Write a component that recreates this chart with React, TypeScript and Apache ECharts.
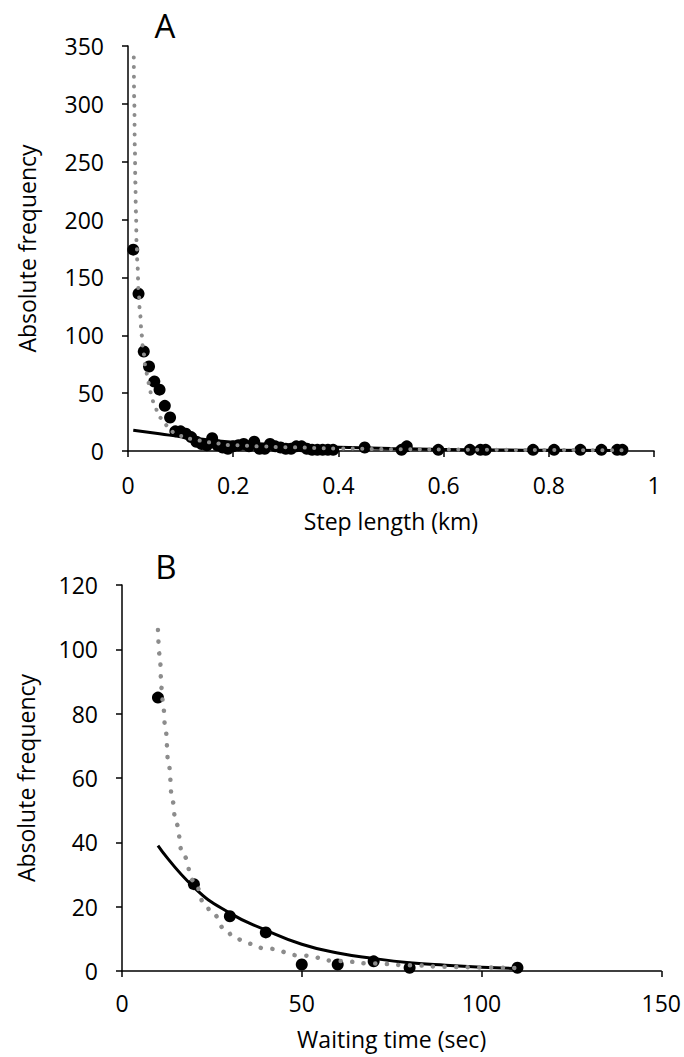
import React, { useEffect, useRef } from "react";
import * as echarts from "echarts";

const FONT = '"Open Sans", Lato, "Liberation Sans", sans-serif';

// ---------- Panel A: step length ----------
const stepLengthKm = [
  0.01, 0.02, 0.03, 0.04, 0.05, 0.06, 0.07, 0.08, 0.09, 0.1, 0.11, 0.12, 0.13,
  0.14, 0.15, 0.16, 0.17, 0.18, 0.19, 0.2, 0.21, 0.22, 0.23, 0.24, 0.25, 0.26,
  0.27, 0.28, 0.29, 0.3, 0.31, 0.32, 0.33, 0.34, 0.35, 0.36, 0.37, 0.38, 0.39,
  0.45, 0.52, 0.53, 0.59, 0.65, 0.67, 0.68, 0.77, 0.81, 0.86, 0.9, 0.93, 0.94,
];
const stepFrequency = [
  174, 136, 86, 73, 60, 53, 39, 29, 17, 17, 15, 12, 8, 6, 5, 11, 5, 3, 2, 4, 5,
  6, 4, 8, 2, 2, 6, 4, 3, 2, 2, 4, 4, 2, 1, 1, 1, 1, 1, 3, 1, 4, 1, 1, 1, 1, 1,
  1, 1, 1, 1, 1,
];
const stepExpFitX = [0.01, 0.06, 0.1, 0.15, 0.2, 0.3, 0.4, 0.5, 0.6, 0.7, 0.8, 0.94];
const stepExpFitY = [18, 15, 12.3, 9.8, 7.6, 4.9, 3.2, 2.1, 1.4, 0.9, 0.6, 0.35];
const stepPowFitX = [
  0.011, 0.012, 0.013, 0.014, 0.015, 0.0165, 0.018, 0.02, 0.023, 0.026, 0.029,
  0.033, 0.037, 0.04, 0.045, 0.05, 0.06, 0.07, 0.08, 0.09, 0.1, 0.12, 0.135,
  0.15, 0.2, 0.25, 0.3, 0.4, 0.5, 0.6, 0.7, 0.8, 0.94,
];
const stepPowFitY = [
  340, 300, 262, 232, 207, 178, 160, 140, 118, 100, 86, 74, 65, 58, 47, 39, 29,
  23, 18, 15, 13, 10.5, 9, 7.5, 5, 4, 3.2, 2.2, 1.6, 1.3, 1.0, 0.8, 0.6,
];

// ---------- Panel B: waiting time ----------
const waitTimeSec = [10, 20, 30, 40, 50, 60, 70, 80, 110];
const waitFrequency = [85, 27, 17, 12, 2, 2, 3, 1, 1];
const waitExpFitX = [10, 20, 30, 40, 50, 60, 70, 80, 90, 100, 110];
const waitExpFitY = [39, 26, 18, 12.7, 8.3, 5.6, 3.9, 2.6, 1.8, 1.2, 0.8];
const waitPowFitX = [
  10, 10.5, 11, 11.5, 12, 13, 14, 15, 17, 20, 23, 25, 29, 31, 35, 40, 50, 60,
  70, 80, 90, 100, 110,
];
const waitPowFitY = [
  106, 98, 88, 82, 76, 64, 53, 46, 36, 28, 21, 18, 12.7, 10.5, 8.5, 7, 4.8,
  3.1, 2.3, 1.8, 1.3, 1.1, 0.9,
];

const zip = (xs: number[], ys: number[]) => xs.map((x, i) => [x, ys[i]]);

const FS = 23;

const axisCommon = (margin: number) => ({
  type: "value" as const,
  splitLine: { show: false },
  axisLine: { show: true, onZero: false, lineStyle: { color: "#000", width: 1.5 } },
  axisTick: { show: true, inside: false, length: 6, lineStyle: { color: "#000", width: 1.5 } },
  axisLabel: { color: "#000", fontSize: FS, fontFamily: FONT, margin },
  nameTextStyle: { color: "#000", fontSize: FS, fontFamily: FONT },
  nameLocation: "middle" as const,
});

export default function App() {
  const ref = useRef<HTMLDivElement>(null);
  useEffect(() => {
    if (!ref.current) return;
    const chart = echarts.init(ref.current, undefined, { renderer: "svg" });
    const dotted = (w: number, gap: number) => ({
      color: "#8c8c8c",
      width: w,
      type: [0.1, gap],
      cap: "round",
    });
    const dot = { color: "#000", opacity: 1 };
    chart.setOption({
      animation: false,
      backgroundColor: "#fff",
      grid: [
        { left: 128, top: 46, width: 526, height: 405 },
        { left: 122, top: 585, width: 542, height: 386 },
      ],
      xAxis: [
        {
          ...axisCommon(22),
          gridIndex: 0,
          min: 0,
          max: 1,
          interval: 0.2,
          name: "Step length (km)",
          nameGap: 58,
        },
        {
          ...axisCommon(20),
          gridIndex: 1,
          min: 0,
          max: 150,
          interval: 50,
          name: "Waiting time (sec)",
          nameGap: 56,
        },
      ],
      yAxis: [
        {
          ...axisCommon(24),
          gridIndex: 0,
          min: 0,
          max: 350,
          interval: 50,
          name: "Absolute frequency",
          nameGap: 90,
        },
        {
          ...axisCommon(24),
          gridIndex: 1,
          min: 0,
          max: 120,
          interval: 20,
          name: "Absolute frequency",
          nameGap: 85,
        },
      ],
      graphic: [
        {
          type: "text",
          x: 165,
          y: 25,
          style: { text: "A", fontSize: 33, fill: "#000", align: "center", verticalAlign: "middle", fontFamily: FONT },
        },
        {
          type: "text",
          x: 166,
          y: 566,
          style: { text: "B", fontSize: 33, fill: "#000", align: "center", verticalAlign: "middle", fontFamily: FONT },
        },
      ],
      series: [
        {
          type: "scatter",
          xAxisIndex: 0,
          yAxisIndex: 0,
          data: zip(stepLengthKm, stepFrequency),
          symbolSize: 12,
          itemStyle: dot,
          z: 1,
        },
        {
          type: "line",
          xAxisIndex: 0,
          yAxisIndex: 0,
          data: zip(stepExpFitX, stepExpFitY),
          smooth: true,
          showSymbol: false,
          lineStyle: { color: "#000", width: 3 },
          z: 2,
        },
        {
          type: "line",
          xAxisIndex: 0,
          yAxisIndex: 0,
          data: zip(stepPowFitX, stepPowFitY),
          smooth: true,
          smoothMonotone: "x",
          showSymbol: false,
          lineStyle: dotted(4, 9.5),
          z: 3,
        },
        {
          type: "scatter",
          xAxisIndex: 1,
          yAxisIndex: 1,
          data: zip(waitTimeSec, waitFrequency),
          symbolSize: 12,
          itemStyle: dot,
          z: 1,
        },
        {
          type: "line",
          xAxisIndex: 1,
          yAxisIndex: 1,
          data: zip(waitExpFitX, waitExpFitY),
          smooth: true,
          showSymbol: false,
          lineStyle: { color: "#000", width: 3 },
          z: 2,
        },
        {
          type: "line",
          xAxisIndex: 1,
          yAxisIndex: 1,
          data: zip(waitPowFitX, waitPowFitY),
          smooth: true,
          smoothMonotone: "x",
          showSymbol: false,
          lineStyle: dotted(4.5, 11.5),
          z: 3,
        },
      ],
    });
    return () => chart.dispose();
  }, []);
  return (
    <div
      ref={ref}
      style={{ position: "absolute", left: 0, top: 0, width: 684, height: 1057, background: "#fff" }}
    />
  );
}
